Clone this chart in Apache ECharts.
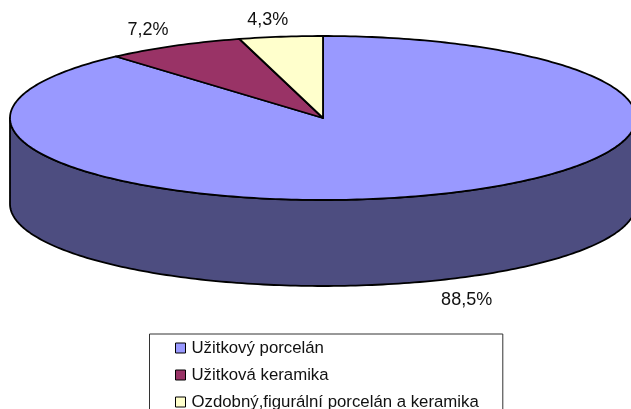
<!DOCTYPE html>
<html><head><meta charset="utf-8">
<style>html,body{margin:0;padding:0;background:#fff;overflow:hidden}#c{width:631px;height:409px}</style>
<script src="https://cdn.jsdelivr.net/npm/echarts@6/dist/echarts.min.js"></script>
</head><body><div id="c"></div>
<script>
const categories = ['Užitkový porcelán', 'Užitková keramika', 'Ozdobný,figurální porcelán a keramika'];
const shares = [88.5, 7.2, 4.3];
const topColors = ['#9999FF', '#993366', '#FFFFCC'];
const wallColors = ['#4D4D80', '#4D1A33', '#808066'];

const PIE = { cx: 323, cy: 118, rx: 313, ry: 82, depth: 86 };
const LABEL_SHIFT = [[33, 19], [-26, -16], [-13, -17]];
const FONT = 'Liberation Sans, Arial, sans-serif';

const total = shares.reduce((a, b) => a + b, 0);
const pt = (deg, dy) => {
  const r = deg * Math.PI / 180;
  return [PIE.cx + PIE.rx * Math.sin(r), PIE.cy - PIE.ry * Math.cos(r) + (dy || 0)];
};
const arc = (a, b, dy) => {
  const out = [], n = Math.max(2, Math.ceil(Math.abs(b - a)));
  for (let i = 0; i <= n; i++) out.push(pt(a + (b - a) * i / n, dy));
  return out;
};
const starts = [];
shares.reduce((acc, v, i) => { starts[i] = acc; return acc + v; }, 0);

const lineStyle = { stroke: '#000', lineWidth: 1.8, lineJoin: 'round' };

function wallItem(i) {
  return function () {
    const a = starts[i] / total * 360, b = (starts[i] + shares[i]) / total * 360;
    const s = Math.max(a, 90), e = Math.min(b, 270);
    if (e <= s) return { type: 'group', children: [] };
    const pts = arc(s, e, 0).concat(arc(e, s, PIE.depth));
    return { type: 'polygon', shape: { points: pts }, style: Object.assign({ fill: wallColors[i] }, lineStyle) };
  };
}
function topItem(i) {
  return function (params, api) {
    const v = api.value(0);
    const a = starts[i] / total * 360, b = (starts[i] + v) / total * 360;
    const pts = [[PIE.cx, PIE.cy]].concat(arc(a, b, 0));
    const mid = (a + b) / 2;
    const m = pt(mid, mid > 90 && mid < 270 ? PIE.depth : 0);
    return {
      type: 'group',
      children: [
        { type: 'polygon', shape: { points: pts }, style: Object.assign({ fill: topColors[i] }, lineStyle) },
        { type: 'text', z2: 10, style: {
            x: m[0] + LABEL_SHIFT[i][0], y: m[1] + LABEL_SHIFT[i][1],
            text: v.toFixed(1).replace('.', ',') + '%',
            font: '18px ' + FONT, fill: '#111', align: 'center', verticalAlign: 'middle' } }
      ]
    };
  };
}

const wallSeries = categories.map((n, i) => ({
  type: 'custom', name: n + ' ', coordinateSystem: 'none', silent: true, z: 1,
  animation: false, renderItem: wallItem(i), data: [[shares[i]]]
}));
const topSeries = categories.map((n, i) => ({
  type: 'custom', name: n, coordinateSystem: 'none', silent: true, z: 2,
  animation: false, clip: false, renderItem: topItem(i), data: [[shares[i]]],
  itemStyle: { color: topColors[i] }
}));

const chart = echarts.init(document.getElementById('c'), null, { renderer: 'canvas', width: 631, height: 409 });
chart.setOption({
  backgroundColor: '#fff',
  animation: false,
  color: topColors,
  legend: {
    orient: 'vertical', left: 149.5, top: 334, height: 120,
    padding: [5.5, 24, 14, 25.5], itemGap: 10,
    backgroundColor: '#fff', borderColor: '#333', borderWidth: 1, borderRadius: 0,
    itemWidth: 10, itemHeight: 10, icon: 'rect', selectedMode: false, align: 'left',
    textStyle: { fontFamily: FONT, fontSize: 16.8, color: '#111', padding: [0, 0, 0, 1], lineHeight: 17 },
    data: categories.map((n, i) => ({ name: n, itemStyle: { color: topColors[i], borderColor: '#000', borderWidth: 1 } }))
  },
  series: wallSeries.concat(topSeries)
});
</script></body></html>
